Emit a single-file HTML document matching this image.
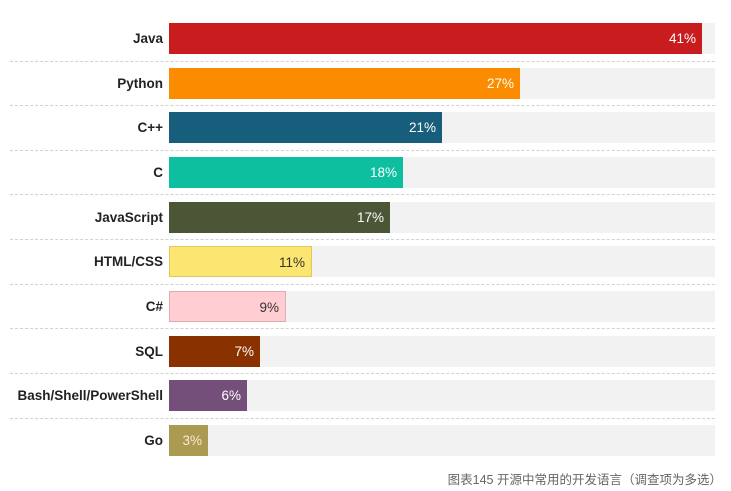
<!DOCTYPE html>
<html><head><meta charset="utf-8"><style>
body{margin:0;width:731px;height:491px;background:#fff;position:relative;overflow:hidden;font-family:"Liberation Sans","Noto Sans CJK SC",sans-serif}
.row{position:absolute;left:0;width:731px;height:31px}
.lab{position:absolute;right:568px;top:0;line-height:31px;font-size:13.5px;font-weight:bold;color:#222;white-space:nowrap}
.trk{position:absolute;left:169px;width:546px;top:0;height:31px;background:#f2f2f2}
.bar{position:absolute;left:169px;top:0;height:31px;box-sizing:border-box}
.val{position:absolute;right:6px;top:0;line-height:31px;font-size:13.5px;color:#fff}
.dash{position:absolute;left:10px;width:705px;height:0;border-top:1px dashed #d2d2d2}
.cap{position:absolute;right:9px;top:469px;font-size:12.5px;color:#666}
</style></head><body>
<div class="row" style="top:23px"><div class="lab">Java</div><div class="trk"></div><div class="bar" style="width:533px;background:#c81c1f"><span class="val">41%</span></div></div>
<div class="dash" style="top:61px"></div>
<div class="row" style="top:68px"><div class="lab">Python</div><div class="trk"></div><div class="bar" style="width:351px;background:#fb8c00"><span class="val">27%</span></div></div>
<div class="dash" style="top:105px"></div>
<div class="row" style="top:112px"><div class="lab">C++</div><div class="trk"></div><div class="bar" style="width:273px;background:#165e7b"><span class="val">21%</span></div></div>
<div class="dash" style="top:150px"></div>
<div class="row" style="top:157px"><div class="lab">C</div><div class="trk"></div><div class="bar" style="width:234px;background:#0dbf9f"><span class="val">18%</span></div></div>
<div class="dash" style="top:194px"></div>
<div class="row" style="top:202px"><div class="lab">JavaScript</div><div class="trk"></div><div class="bar" style="width:221px;background:#4b5636"><span class="val">17%</span></div></div>
<div class="dash" style="top:239px"></div>
<div class="row" style="top:246px"><div class="lab">HTML/CSS</div><div class="trk"></div><div class="bar" style="width:143px;background:#fde571;border:1px solid #e0c860"><span class="val" style="color:#333">11%</span></div></div>
<div class="dash" style="top:284px"></div>
<div class="row" style="top:291px"><div class="lab">C#</div><div class="trk"></div><div class="bar" style="width:117px;background:#ffcdd2;border:1px solid #e0aab0"><span class="val" style="color:#333">9%</span></div></div>
<div class="dash" style="top:328px"></div>
<div class="row" style="top:336px"><div class="lab">SQL</div><div class="trk"></div><div class="bar" style="width:91px;background:#8a3100"><span class="val">7%</span></div></div>
<div class="dash" style="top:373px"></div>
<div class="row" style="top:380px"><div class="lab">Bash/Shell/PowerShell</div><div class="trk"></div><div class="bar" style="width:78px;background:#734f7a"><span class="val">6%</span></div></div>
<div class="dash" style="top:418px"></div>
<div class="row" style="top:425px"><div class="lab">Go</div><div class="trk"></div><div class="bar" style="width:39px;background:#ab9a52"><span class="val" style="color:#f5ecd0">3%</span></div></div>
<div class="cap">图表145 开源中常用的开发语言（调查项为多选）</div>
</body></html>
